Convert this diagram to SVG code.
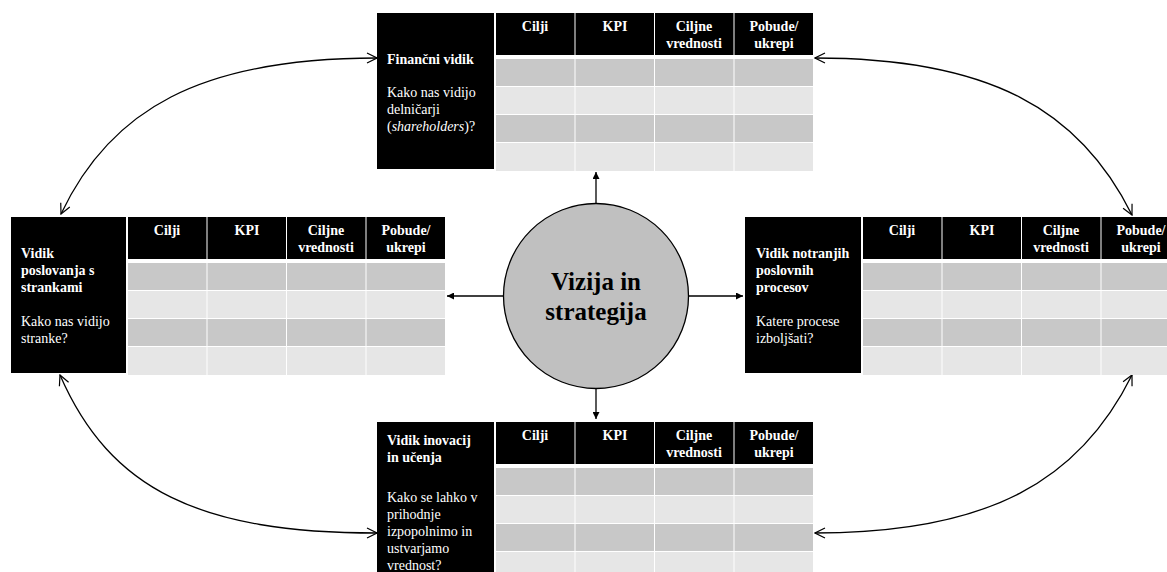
<svg xmlns="http://www.w3.org/2000/svg" width="1167" height="572" viewBox="0 0 1167 572">
<defs>
<style>
.lab{fill:#000}
.hd{fill:#000}
.d{fill:#c8c8c8}
.l{fill:#e6e6e6}
.t{font-family:"Liberation Serif","Times New Roman",serif;font-size:14px;fill:#fff}
.b{font-weight:bold}
.h{font-family:"Liberation Serif","Times New Roman",serif;font-size:14px;font-weight:bold;fill:#fff;text-anchor:middle}
.conn{fill:none;stroke:#000;stroke-width:1.3}
</style>
<marker id="fa" viewBox="0 0 10 10" refX="10" refY="5" markerWidth="7" markerHeight="7" markerUnits="userSpaceOnUse" orient="auto"><path d="M0,0 L10,5 L0,10 z" fill="#000"/></marker>
<marker id="oa" viewBox="0 0 12 12" refX="11" refY="6" markerWidth="12" markerHeight="12" markerUnits="userSpaceOnUse" orient="auto-start-reverse"><path d="M1,1 L11,6 L1,11" fill="none" stroke="#000" stroke-width="1.2"/></marker>
<g id="grid">
<rect class="hd" x="0" y="0" width="78.5" height="42"/>
<rect class="hd" x="79.5" y="0" width="78.5" height="42"/>
<rect class="hd" x="159" y="0" width="78.5" height="42"/>
<rect class="hd" x="238.5" y="0" width="78.5" height="42"/>
<text class="h" x="39" y="18">Cilji</text>
<text class="h" x="119" y="18">KPI</text>
<text class="h" x="198" y="18">Ciljne</text>
<text class="h" x="198" y="35">vrednosti</text>
<text class="h" x="278" y="18">Pobude/</text>
<text class="h" x="278" y="35">ukrepi</text>
<g class="d"><rect x="0" y="46" width="78.5" height="27"/><rect x="79.5" y="46" width="78.5" height="27"/><rect x="159" y="46" width="78.5" height="27"/><rect x="238.5" y="46" width="78.5" height="27"/>
<rect x="0" y="102" width="78.5" height="27"/><rect x="79.5" y="102" width="78.5" height="27"/><rect x="159" y="102" width="78.5" height="27"/><rect x="238.5" y="102" width="78.5" height="27"/></g>
<g class="l"><rect x="0" y="74" width="78.5" height="27"/><rect x="79.5" y="74" width="78.5" height="27"/><rect x="159" y="74" width="78.5" height="27"/><rect x="238.5" y="74" width="78.5" height="27"/>
<rect x="0" y="130" width="78.5" height="28"/><rect x="79.5" y="130" width="78.5" height="28"/><rect x="159" y="130" width="78.5" height="28"/><rect x="238.5" y="130" width="78.5" height="28"/></g>
</g>
</defs>
<rect width="1167" height="572" fill="#fff"/>

<g id="connectors">
<path class="conn" d="M596,204 L596,172" marker-end="url(#fa)"/>
<path class="conn" d="M596,389 L596,419" marker-end="url(#fa)"/>
<path class="conn" d="M503,296 L447,296" marker-end="url(#fa)"/>
<path class="conn" d="M689,296 L743,296" marker-end="url(#fa)"/>
<path class="conn" d="M61,214 C110,110 200,58 377,58" marker-start="url(#oa)" marker-end="url(#oa)"/>
<path class="conn" d="M815,58 C990,58 1080,110 1132,215" marker-start="url(#oa)" marker-end="url(#oa)"/>
<path class="conn" d="M60,375 C110,490 200,533 377,533" marker-start="url(#oa)" marker-end="url(#oa)"/>
<path class="conn" d="M815,533 C990,533 1080,480 1132,375" marker-start="url(#oa)" marker-end="url(#oa)"/>
</g>

<g id="financni">
<rect class="lab" x="377" y="13" width="117" height="156"/>
<text class="t b" x="387" y="64">Finančni vidik</text>
<text class="t" x="387" y="97">Kako nas vidijo</text>
<text class="t" x="387" y="114">delničarji</text>
<text class="t" x="387" y="131">(<tspan font-style="italic">shareholders</tspan>)?</text>
<use href="#grid" x="496" y="13"/>
</g>

<g id="stranke">
<rect class="lab" x="11" y="217" width="115" height="156"/>
<text class="t b" x="21" y="258">Vidik</text>
<text class="t b" x="21" y="275">poslovanja s</text>
<text class="t b" x="21" y="292">strankami</text>
<text class="t" x="21" y="326">Kako nas vidijo</text>
<text class="t" x="21" y="343">stranke?</text>
<use href="#grid" x="128" y="217"/>
</g>

<g id="procesi">
<rect class="lab" x="745" y="217" width="116" height="156"/>
<text class="t b" x="756" y="258">Vidik notranjih</text>
<text class="t b" x="756" y="275">poslovnih</text>
<text class="t b" x="756" y="292">procesov</text>
<text class="t" x="756" y="326">Katere procese</text>
<text class="t" x="756" y="343">izboljšati?</text>
<use href="#grid" x="863" y="217"/>
</g>

<g id="inovacije">
<rect class="lab" x="377" y="422" width="117" height="156"/>
<text class="t b" x="387" y="445">Vidik inovacij</text>
<text class="t b" x="387" y="462">in učenja</text>
<text class="t" x="387" y="502">Kako se lahko v</text>
<text class="t" x="387" y="519">prihodnje</text>
<text class="t" x="387" y="536">izpopolnimo in</text>
<text class="t" x="387" y="553">ustvarjamo</text>
<text class="t" x="387" y="570">vrednost?</text>
<use href="#grid" x="496" y="422"/>
</g>

<g id="vizija">
<circle cx="596" cy="296" r="92.5" fill="#c0c0c0" stroke="#000" stroke-width="1.3"/>
<text x="596" y="290" font-family="Liberation Serif,Times New Roman,serif" font-size="25" font-weight="bold" text-anchor="middle">Vizija in</text>
<text x="596" y="320" font-family="Liberation Serif,Times New Roman,serif" font-size="25" font-weight="bold" text-anchor="middle">strategija</text>
</g>
</svg>
